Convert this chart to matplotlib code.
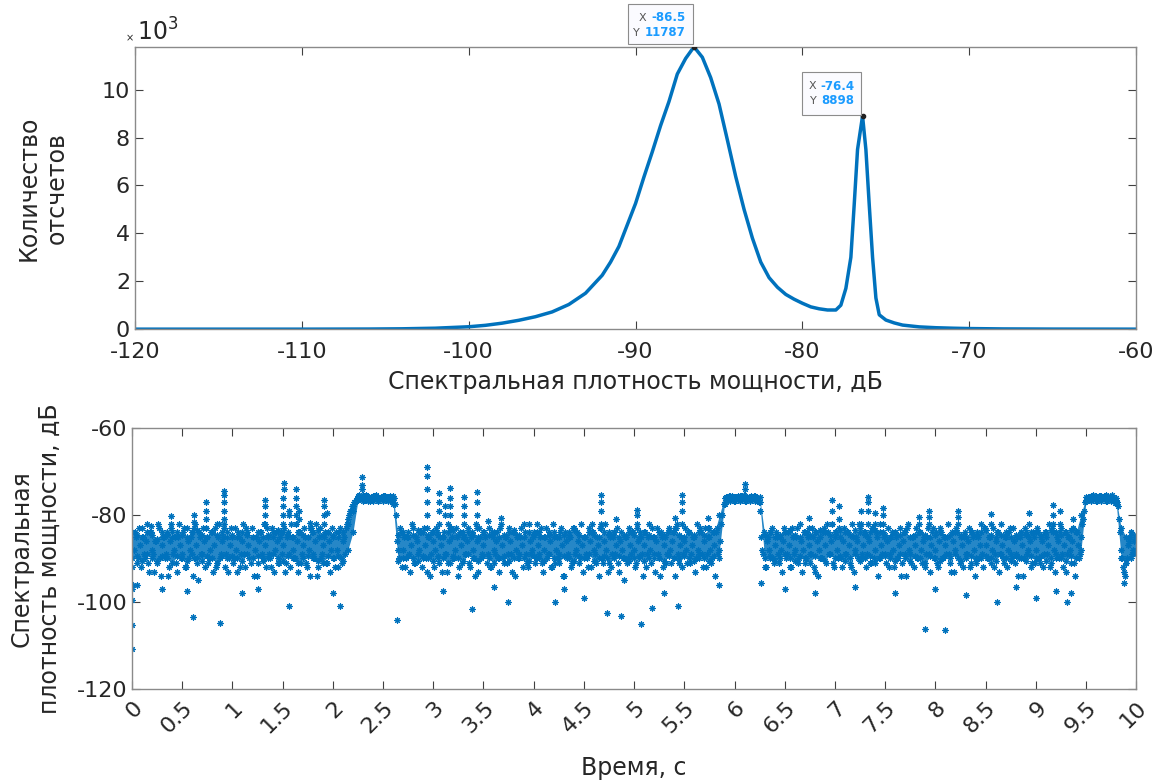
import numpy as np
import matplotlib
matplotlib.use("Agg")
import matplotlib.pyplot as plt
from matplotlib import transforms
from matplotlib.patches import Rectangle

plt.rcParams['font.family'] = ['DejaVu Sans']
plt.rcParams['axes.unicode_minus'] = False

# --- верхний график: гистограмма спектральной плотности мощности ---
hist_x = [-120, -110, -106, -104, -102, -100, -99, -98, -97, -96, -95, -94, -93, -92,
          -91.5, -91, -90.5, -90, -89.5, -89, -88.5, -88, -87.5, -87, -86.5, -86,
          -85.5, -85, -84.5, -84, -83.5, -83, -82.5, -82, -81.5, -81, -80.5, -80,
          -79.5, -79, -78.5, -78, -77.7, -77.4, -77.1, -76.9, -76.7, -76.4, -76.2,
          -76, -75.8, -75.6, -75.4, -75, -74.5, -74, -73, -72, -71, -70, -68, -65, -60]
hist_cnt = [0, 0, 5, 15, 40, 100, 160, 250, 370, 520, 720, 1030, 1500, 2250,
            2800, 3450, 4350, 5250, 6350, 7400, 8500, 9500, 10650, 11300, 11787, 11350,
            10500, 9400, 7900, 6370, 5000, 3800, 2800, 2150, 1750, 1450, 1250, 1080,
            930, 850, 800, 800, 1000, 1700, 3000, 5200, 7500, 8898, 7500,
            5200, 3000, 1300, 600, 380, 260, 170, 95, 60, 40, 25, 10, 3, 0]
tips = [(-86.5, 11787, '-86.5', '11787'), (-76.4, 8898, '-76.4', '8898')]

# --- нижний график: СПМ во времени ---
# плотное ядро полосы (шаг 0.05 с)
core_top = [
    -84, -84.5, -85, -84, -84.5, -85.5, -84, -84.5, -85, -84, -84.5, -85, -84, -83.5, -84.5, -85, -84, -84.5, -84, -85,
    -84.5, -85, -84, -84.5, -85, -84, -85, -84.5, -84, -83.5, -84, -84.5, -85, -84, -84.5, -85, -84, -83.5, -84.5, -84,
    -84.5, -85, -84, -82, -79, -75.8, -75.5, -75.8, -75.6, -75.8, -75.7, -75.8, -75.6, -84.5, -84, -85, -84.5, -83.5, -84, -84.5,
    -84, -84.5, -85, -84, -83.5, -84.5, -85, -84, -84.5, -85, -84, -84.5, -84, -85, -84.5, -84, -83.5, -84.5, -85, -84,
    -84.5, -84, -85, -84.5, -84, -85, -84.5, -84, -83.5, -84.5, -85, -84, -84.5, -85, -84, -84.5, -84, -85, -84.5, -84,
    -84.5, -85, -84, -84.5, -85, -84, -84.5, -83.5, -84, -84.5, -85, -84, -84.5, -84, -84.5, -83, -84, -80, -76, -75.6,
    -75.8, -75.7, -75.6, -75.8, -75.7, -75.8, -84.5, -84, -85, -84.5, -84, -83.5, -84.5, -85, -84, -84.5, -84, -83.5, -84, -84.5,
    -84, -83.5, -84, -84.5, -83.5, -84, -84.5, -84, -83.5, -84, -84.5, -85, -84, -84.5, -84, -85, -84.5, -84, -84.5, -85,
    -84.5, -84, -85, -84.5, -84, -84.5, -85, -84, -84.5, -84, -83.5, -84.5, -85, -84.5, -84, -85, -84.5, -84, -84.5, -84,
    -84, -84.5, -84, -83.5, -84, -84.5, -84, -83.5, -84, -80, -75.8, -75.6, -75.7, -75.6, -75.5, -75.8, -76.2, -83, -85, -84,
    -84.5]
core_bot = [
    -90, -89.5, -90.5, -89, -90, -90.5, -89.5, -90, -91, -89.5, -90, -90.5, -89, -90, -90.5, -89.5, -90, -91, -89.5, -90,
    -89.5, -90, -90.5, -89, -90, -89.5, -90.5, -90, -89, -90, -90.5, -89.5, -90, -91, -90, -89.5, -90, -90.5, -91, -89.5,
    -90, -89.5, -90.5, -88, -84, -76.6, -76.8, -76.7, -76.9, -76.8, -76.7, -76.9, -77.5, -90.5, -90, -89.5, -90, -90.5, -89.5, -90,
    -90.5, -89.5, -90, -91, -89.5, -90, -90.5, -89, -90, -90.5, -89.5, -90, -91, -90, -89.5, -90.5, -90, -89, -90, -90.5,
    -89.5, -90, -90.5, -89, -90, -91, -89.5, -90, -90.5, -89.5, -90, -89, -90.5, -90, -89.5, -91, -90, -89.5, -90, -90.5,
    -90, -89.5, -90.5, -90, -89, -90, -90.5, -89.5, -90, -91, -89.5, -90, -90.5, -89, -90, -90.5, -89.5, -88, -77.5, -76.8,
    -76.7, -76.9, -76.8, -76.7, -76.8, -77, -90, -89.5, -90.5, -90, -89, -90, -90.5, -89.5, -90, -91, -89.5, -90, -90.5, -89,
    -90, -89.5, -90.5, -90, -89, -90.5, -90, -89.5, -91, -90, -89.5, -90, -90.5, -89, -90, -90.5, -89.5, -90, -91, -89.5,
    -90, -90.5, -89.5, -90, -89, -90.5, -90, -89.5, -91, -90, -89.5, -90, -90.5, -89, -90, -90.5, -89.5, -90, -90.5, -89.5,
    -90, -89.5, -90.5, -90, -89, -90, -90.5, -89.5, -90, -88, -76.8, -76.7, -76.9, -76.8, -76.7, -76.8, -77.2, -90, -91, -90,
    -89]

# отдельные отсчеты (шаг 0.02 с, начиная с 0)
y_pts = [
    -92, -88, -85, -90, -87, -83, -89, -86, -91, -84, -88, -93, -86, -82, -90, -87, -85, -89, -94, -86, -84, -88, -91, -85, -87,
    -89, -83, -92, -86, -88, -84, -90, -87, -95, -85, -89, -86, -83, -91, -88, -84, -87, -92, -85, -90, -86, -82, -89, -93, -87,
    -85, -90, -88, -84, -92, -86, -89, -83, -87, -91, -85, -88, -94, -86, -84, -90, -87, -83, -89, -92, -85, -88, -86, -91, -84,
    -87, -93, -85, -89, -82, -88, -90, -86, -84, -91, -87, -85, -92, -88, -83, -89, -86, -94, -85, -90, -87, -84, -91, -86, -88,
    -85, -92, -88, -84, -90, -86, -89, -82, -80, -79, -78, -77, -76.5, -75.5, -76, -75.8, -76.3, -75.6, -76.1, -75.9, -76.4, -75.7, -76, -76.2, -75.8,
    -76, -75.6, -76.3, -75.9, -76.2, -76.5, -77.5, -86, -90, -84, -88, -92, -85, -89, -87, -83, -91, -86, -88, -84, -90, -87, -93, -85, -89,
    -86, -88, -84, -91, -87, -85, -89, -93, -86, -83, -90, -88, -85, -92, -87, -84, -89, -86, -91, -85, -88, -94, -86, -83, -90,
    -87, -85, -89, -92, -84, -88, -86, -90, -83, -87, -91, -85, -89, -86, -93, -84, -88, -90, -85, -87, -82, -89, -92, -86, -88,
    -84, -90, -87, -85, -91, -88, -83, -89, -86, -92, -85, -88, -90, -84, -87, -94, -86, -89, -85, -91, -83, -88, -86, -90, -87,
    -85, -89, -92, -86, -84, -88, -91, -87, -83, -90, -86, -88, -93, -85, -89, -84, -87, -91, -86, -88, -95, -85, -90, -87, -84,
    -88, -91, -86, -84, -89, -87, -92, -85, -88, -83, -90, -86, -89, -94, -85, -87, -91, -84, -88, -86, -90, -83, -89, -87, -92,
    -86, -88, -84, -91, -87, -85, -90, -88, -83, -89, -86, -92, -85, -88, -90, -87, -84, -89, -86, -80, -77, -76, -75.7, -76.2, -75.9,
    -76.1, -75.8, -76.4, -75.6, -76, -76.3, -75.9, -76.2, -75.7, -76, -76.4, -76.1, -77, -85, -89, -92, -86, -88, -84, -90, -87, -85, -91, -88, -86,
    -84, -89, -87, -92, -85, -88, -83, -90, -86, -88, -91, -84, -87, -89, -85, -93, -86, -88, -90, -84, -87, -82, -89, -86, -91,
    -85, -88, -83, -90, -86, -89, -84, -87, -92, -85, -88, -86, -82, -90, -87, -84, -89, -86, -91, -83, -88, -85, -90, -87, -84,
    -89, -86, -92, -85, -88, -84, -90, -87, -94, -86, -89, -83, -88, -91, -85, -87, -90, -84, -88, -86, -92, -85, -89, -87, -83,
    -88, -91, -86, -84, -90, -87, -85, -89, -93, -86, -88, -84, -91, -87, -85, -89, -86, -92, -84, -88, -90, -85, -87, -89, -83,
    -87, -90, -85, -88, -92, -86, -84, -89, -87, -91, -85, -88, -83, -90, -86, -89, -94, -85, -87, -90, -84, -88, -86, -91, -85,
    -88, -84, -91, -86, -89, -85, -87, -92, -83, -88, -90, -86, -84, -89, -87, -93, -85, -88, -86, -91, -84, -87, -89, -82, -79,
    -76.5, -75.8, -76.2, -75.6, -76, -75.9, -76.3, -75.7, -76.1, -75.8, -76.4, -75.6, -76, -75.5, -76.2, -76.8, -78, -84, -90, -93, -91, -87, -85, -89, -86,
    -88]
# отсчеты между ними (шаг 0.02 с, начиная с 0.01)
y_pts2 = [
    -96, -84, -91, -83, -92, -85, -90, -82, -93, -84, -89, -86, -91, -83, -94, -85, -90, -84, -92, -83, -89, -85, -93, -82, -90,
    -84, -92, -83, -90, -85, -94, -82, -91, -84, -89, -83, -92, -85, -90, -84, -93, -83, -91, -82, -89, -85, -92, -84, -90, -83,
    -91, -83, -93, -85, -89, -82, -92, -84, -90, -83, -94, -85, -91, -84, -89, -82, -92, -85, -90, -83, -93, -84, -91, -85, -89,
    -83, -91, -84, -92, -85, -90, -82, -93, -84, -89, -83, -91, -85, -94, -84, -90, -82, -92, -83, -89, -85, -91, -84, -93, -83,
    -90, -84, -92, -83, -91, -85, -83, -81, -79, -78, -77, -76.5, -75.7, -76.3, -75.9, -76.6, -75.4, -76.1, -76.8, -75.8, -76.2, -75.5, -76.7, -76, -76.4,
    -75.7, -76.5, -76.1, -75.6, -76.9, -76.2, -80, -88, -83, -92, -85, -90, -84, -93, -82, -91, -85, -89, -84, -92, -83, -90, -85, -94, -84,
    -92, -83, -90, -85, -93, -84, -89, -82, -91, -85, -90, -83, -94, -84, -91, -85, -89, -83, -92, -84, -90, -82, -93, -85, -89,
    -84, -91, -83, -92, -85, -89, -84, -93, -82, -90, -85, -91, -83, -89, -84, -94, -85, -90, -83, -92, -84, -91, -82, -89, -85,
    -91, -84, -89, -83, -93, -85, -90, -84, -92, -82, -91, -85, -89, -83, -94, -84, -90, -85, -92, -83, -89, -84, -91, -82, -93,
    -85, -90, -83, -92, -84, -89, -85, -94, -83, -91, -82, -90, -84, -92, -85, -89, -83, -93, -84, -90, -85, -91, -83, -89, -84,
    -92, -83, -90, -85, -94, -84, -89, -82, -91, -85, -93, -83, -90, -84, -92, -85, -89, -83, -91, -84, -94, -82, -90, -85, -89,
    -83, -91, -84, -89, -85, -93, -82, -90, -84, -92, -83, -89, -85, -91, -84, -94, -83, -90, -82, -77.5, -75.8, -76.4, -76, -75.6, -76.7,
    -76.2, -75.7, -76.5, -76, -75.5, -76.8, -76.1, -75.9, -76.4, -75.6, -76.3, -76.9, -79, -88, -84, -92, -85, -90, -83, -91, -84, -89, -85, -93, -83,
    -90, -84, -92, -83, -89, -85, -91, -82, -93, -84, -90, -85, -89, -83, -92, -84, -94, -85, -90, -83, -91, -84, -89, -82, -92,
    -84, -90, -85, -92, -83, -89, -84, -91, -82, -93, -85, -90, -83, -89, -84, -92, -85, -91, -83, -90, -84, -94, -82, -89, -85,
    -91, -83, -89, -84, -92, -85, -90, -83, -91, -84, -94, -82, -89, -85, -92, -83, -90, -84, -91, -85, -89, -83, -93, -84, -90,
    -84, -92, -83, -90, -85, -89, -82, -91, -84, -93, -83, -90, -85, -92, -84, -89, -83, -91, -85, -94, -84, -90, -82, -92, -83,
    -90, -85, -91, -83, -89, -84, -93, -82, -90, -85, -92, -84, -89, -83, -91, -85, -90, -84, -94, -83, -89, -85, -92, -84, -91,
    -83, -90, -85, -92, -84, -89, -82, -91, -84, -93, -85, -90, -83, -92, -84, -89, -85, -91, -83, -94, -84, -90, -85, -81, -77,
    -76.3, -75.8, -76.6, -75.5, -76.1, -76.9, -75.7, -76.4, -76, -75.6, -76.8, -76.2, -75.9, -76.5, -77.2, -77, -81, -88, -92, -94, -90, -86, -84, -88, -85]

# всплески вверх и выбросы вниз (время, дБ)
spike_t = [0.19, 0.39, 0.39, 0.62, 0.62, 0.62, 0.735, 0.735, 0.735, 0.735, 0.85,
           0.915, 0.915, 0.915, 0.915, 0.915, 0.915, 1.325, 1.325, 1.325, 1.325,
           1.50, 1.50, 1.505, 1.505, 1.51, 1.51, 1.56, 1.56, 1.632, 1.632, 1.632, 1.632, 1.632,
           1.66, 1.66, 1.768, 1.768, 1.908, 1.908, 1.908, 1.908, 1.94, 2.29, 2.29, 2.29,
           2.94, 2.94, 2.94, 2.94, 2.94, 2.94, 3.06, 3.06, 3.06, 3.06, 3.12, 3.12,
           3.17, 3.17, 3.17, 3.17, 3.17, 3.31, 3.31, 3.31, 3.31, 3.435, 3.435, 3.435, 3.435,
           3.54, 3.675, 4.03, 4.58, 4.675, 4.675, 4.675, 4.675, 4.82, 5.025, 5.025, 5.025,
           5.41, 5.41, 5.475, 5.475, 5.475, 5.475, 5.74, 5.74, 6.1, 6.1, 6.74, 6.74,
           6.975, 6.975, 6.975, 7.04, 7.04, 7.26, 7.26, 7.325, 7.325, 7.325, 7.325,
           7.4, 7.4, 7.475, 7.475, 7.475, 7.835, 7.835, 7.94, 7.94, 7.94,
           8.225, 8.225, 8.225, 8.55, 8.55, 8.935, 8.935, 9.17, 9.17, 9.17, 9.24, 9.24, 9.375, 9.375]
spike_y = [-82.5, -82, -80.2, -83, -81.5, -80, -83, -81, -79, -77, -82,
           -83, -81, -79, -77, -75.5, -74.5, -82, -80, -78, -76.6,
           -82, -78, -80, -76, -74, -72.7, -80, -79, -82, -80, -78, -76, -74.1,
           -79, -81, -81.8, -83, -82, -80, -78, -76.6, -79.5, -74, -71.2, -73,
           -83, -80, -77, -74, -71, -69, -82, -79, -77, -75, -78, -80,
           -83, -80, -78, -76, -73.8, -82, -80, -78, -75.9, -83, -80, -77, -74.7,
           -81.3, -80.8, -82, -82, -82, -79, -77, -75.4, -81, -82, -80, -78.8,
           -80.8, -83, -82, -79, -77, -75.4, -80.8, -83, -74, -72.9, -80.8, -83,
           -82, -79, -76.6, -78, -81, -79, -82, -82, -79, -77, -75.9,
           -79.5, -82, -82, -80, -78.4, -82, -80.5, -82, -80.5, -79,
           -82, -80.5, -79, -82, -79.8, -82, -79.5, -82, -80, -77.7, -79, -82, -81, -83]
low_t = [0.0, 0.0, 0.0, 0.0, 0.05, 0.3, 0.55, 0.61, 0.875, 1.1, 1.25, 1.568, 2.0,
         2.068, 2.64, 3.1, 3.39, 3.6, 3.74, 4.21, 4.3, 4.5, 4.725, 4.87, 5.07,
         5.175, 5.3, 5.44, 5.85, 6.26, 6.5, 6.8, 7.2, 7.6, 7.9, 8.0, 8.1, 8.3,
         8.61, 8.8, 9.0, 9.2, 9.31, 9.35, 9.875]
low_y = [-97, -99.6, -105.3, -110.8, -96, -97, -97.5, -103.5, -104.8, -98, -97, -101, -98,
         -101, -104.1, -97.5, -101.6, -96.5, -100, -100.1, -97, -99, -102.5, -103.3, -105,
         -101.4, -98, -101, -96, -95.6, -97, -98, -96.5, -98, -106.3, -97, -106.5, -98.5,
         -99.9, -96.5, -99, -97.5, -99.9, -98, -95.6]

xticks_bot = [0, 0.5, 1, 1.5, 2, 2.5, 3, 3.5, 4, 4.5, 5, 5.5, 6, 6.5, 7, 7.5, 8, 8.5, 9, 9.5, 10]

blue = '#0072BD'
txt = '#262626'
star = (8, 2, 0)

fig = plt.figure(figsize=(11.63, 7.8), dpi=100)
ax1 = fig.add_axes([0.116, 0.578, 0.861, 0.362])
ax2 = fig.add_axes([0.1135, 0.1167, 0.8635, 0.3346])

for ax in (ax1, ax2):
    ax.tick_params(direction='in', length=6, width=0.8, top=True, right=True,
                   labelsize=16, colors='#404040', labelcolor=txt)
    for s in ax.spines.values():
        s.set_color('#8a8a8a')
        s.set_linewidth(1.0)
ax1.tick_params(axis='x', pad=9)
ax2.tick_params(axis='x', pad=6)

# верх
hx = np.array(hist_x)
hy = np.array(hist_cnt) / 1000.0
ax1.plot(hx, hy, color=blue, lw=2.5)
ax1.set_xlim(-120, -60)
ax1.set_ylim(0, 11.787)
ax1.set_xticks(range(-120, -59, 10))
ax1.set_yticks([0, 2, 4, 6, 8, 10])
ax1.set_xlabel('Спектральная плотность мощности, дБ', fontsize=17, color=txt, labelpad=6)
ax1.set_ylabel('Количество\nотсчетов', fontsize=17, color=txt)
ax1.yaxis.set_label_coords(-0.066, 0.5)
ax1.text(-0.009, 1.012, '×', transform=ax1.transAxes, fontsize=7, color=txt, ha='left', va='bottom')
ax1.text(0.002, 1.005, r'$10^{3}$', transform=ax1.transAxes, fontsize=17, color=txt, ha='left', va='bottom')

tip_geom = [(-0.66, 0.03, 0.65, 0.40, -0.426, -0.493, 0.29, 0.14),
            (-0.61, 0.01, 0.59, 0.43, -0.417, -0.41, 0.30, 0.155)]
for (tx, ty, sx, sy), (bx, by, bw, bh, u1, u2, v1, v2) in zip(tips, tip_geom):
    ax1.plot([tx], [ty / 1000.0], 'o', ms=3, color='#222222', zorder=5)
    tr = fig.dpi_scale_trans + transforms.ScaledTranslation(tx, ty / 1000.0, ax1.transData)
    ax1.add_artist(Rectangle((bx, by), bw, bh, transform=tr, facecolor='#fbfbff',
                             edgecolor='#8c8c8c', lw=0.8, clip_on=False, zorder=6))
    for lab, val, u, v in (('X', sx, u1, v1), ('Y', sy, u2, v2)):
        ax1.text(u - 0.05, v, lab, transform=tr, fontsize=8, color='#555555',
                 ha='right', va='center', zorder=7, clip_on=False)
        ax1.text(u, v, val, transform=tr, fontsize=8.5, color='#1a9bff', fontweight='bold',
                 ha='left', va='center', zorder=7, clip_on=False)

# низ
t_core = np.linspace(0, 10, len(core_top))
t_pts = np.linspace(0, 10, len(y_pts))
t_pts2 = t_pts[:-1] + 0.01
ax2.fill_between(t_core, core_bot, core_top, color=blue, lw=0, alpha=0.85)
for tt, yy in ((t_core, core_top), (t_core, core_bot), (t_pts, y_pts),
               (t_pts2, y_pts2), (spike_t, spike_y), (low_t, low_y)):
    ax2.plot(tt, yy, ls='none', marker=star, ms=4.5, mew=0.8, color=blue)
ax2.set_xlim(0, 10)
ax2.set_ylim(-120, -60)
ax2.set_yticks([-120, -100, -80, -60])
ax2.set_xticks(xticks_bot)
ax2.set_xticklabels([('%g' % v) for v in xticks_bot], rotation=45, ha='right', va='top',
                    rotation_mode='anchor')
ax2.set_xlabel('Время, с', fontsize=17, color=txt, labelpad=14)
ax2.set_ylabel('Спектральная\nплотность мощности, дБ', fontsize=17, color=txt)
ax2.yaxis.set_label_coords(-0.07, 0.5)

fig.savefig('out.png', dpi=100)
